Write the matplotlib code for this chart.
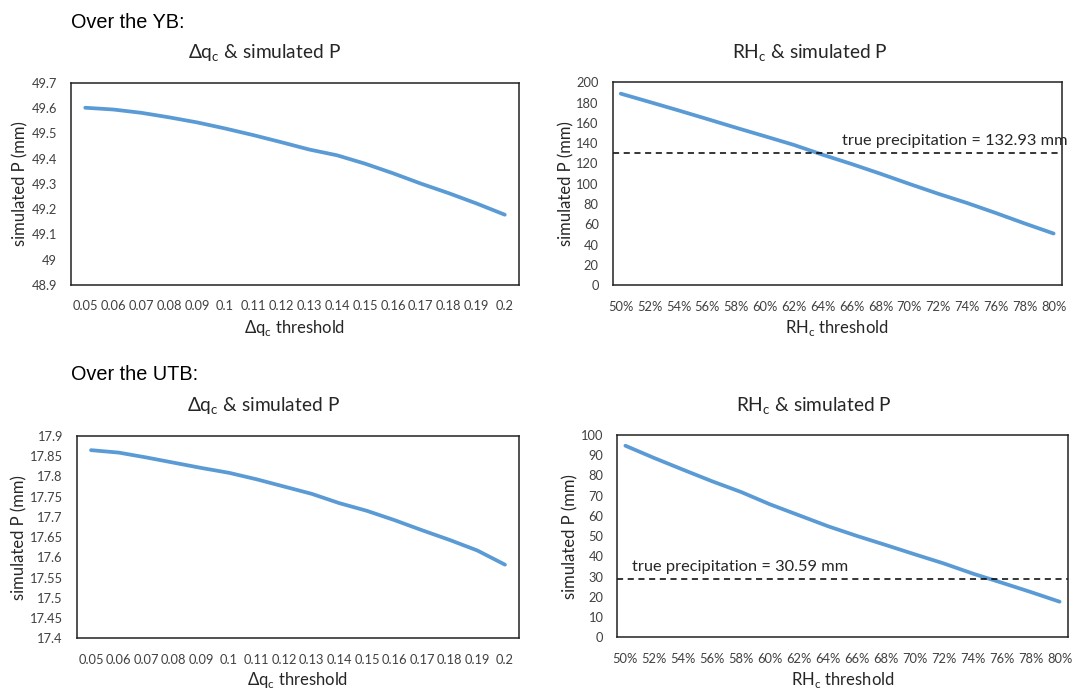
import matplotlib
matplotlib.use("Agg")
import matplotlib.pyplot as plt
import numpy as np

plt.rcParams['font.family'] = ['Lato', 'DejaVu Sans']

# categories
dq_labels = ['0.05', '0.06', '0.07', '0.08', '0.09', '0.1', '0.11', '0.12',
             '0.13', '0.14', '0.15', '0.16', '0.17', '0.18', '0.19', '0.2']
rh_labels = ['50%', '52%', '54%', '56%', '58%', '60%', '62%', '64%',
             '66%', '68%', '70%', '72%', '74%', '76%', '78%', '80%']

# simulated P (mm)
yb_dq = [49.601, 49.594, 49.581, 49.563, 49.543, 49.519, 49.493, 49.465,
         49.436, 49.413, 49.380, 49.342, 49.301, 49.263, 49.222, 49.178]
yb_rh = [188.8, 180.6, 172.3, 163.8, 155.2, 146.8, 138.3, 128.6,
         119.5, 109.9, 99.9, 90.2, 81.1, 71.2, 60.9, 51.0]
utb_dq = [17.865, 17.859, 17.847, 17.834, 17.821, 17.809, 17.793, 17.775,
          17.757, 17.734, 17.715, 17.692, 17.667, 17.643, 17.617, 17.582]
utb_rh = [94.7, 88.6, 82.8, 77.1, 71.8, 65.7, 60.3, 54.9,
          50.1, 45.6, 41.0, 36.5, 31.5, 27.0, 22.4, 17.6]

# true precipitation
yb_true = 132.93
utb_true = 30.59
yb_true_drawn = 130.0   # level of the dashed line as drawn
utb_true_drawn = 28.9

W, H = 1075, 689
BLUE = '#5B9BD5'
TXT = '#262626'


def box(l, t, r, b):
    return [l / W, 1 - b / H, (r - l) / W, (b - t) / H]


def panel(rect, labels, values, ylim, ystep, pad, xlabel, title, title_x, title_y,
          ylab_x, xlab_y):
    l, t, r, b = rect
    ax = fig.add_axes(box(*rect))
    x = np.arange(len(labels))
    ax.plot(x, values, color=BLUE, lw=2.7, solid_capstyle='round')
    ax.set_xlim(-pad, len(labels) - 1 + pad)
    ax.set_ylim(*ylim)
    yt = np.round(np.arange(ylim[0], ylim[1] + ystep / 2, ystep), 4)
    ax.set_yticks(yt)
    ax.set_yticklabels(['{:g}'.format(v) for v in yt])
    ax.set_xticks(x)
    ax.set_xticklabels(labels)
    ax.tick_params(length=0, labelsize=9.3, colors='#404040')
    ax.tick_params(axis='x', pad=11)
    ax.tick_params(axis='y', pad=10)
    for s in ax.spines.values():
        s.set_linewidth(1.1)
        s.set_color('#222222')
    ax.set_xlabel(xlabel, fontsize=12, color=TXT, va='center')
    ax.xaxis.set_label_coords(0.5, -(xlab_y - b) / (b - t))
    ax.set_ylabel('simulated P (mm)', fontsize=12, color=TXT, va='center')
    ax.yaxis.set_label_coords(-(l - ylab_x) / (r - l), 0.5)
    fig.text(title_x / W, 1 - title_y / H, title, fontsize=13.8, color=TXT,
             ha='center', va='center')
    return ax


fig = plt.figure(figsize=(W / 100, H / 100), dpi=100)

dq_title = 'Δq$_\\mathregular{c}$ & simulated P'
rh_title = 'RH$_\\mathregular{c}$ & simulated P'
dq_x = 'Δq$_\\mathregular{c}$ threshold'
rh_x = 'RH$_\\mathregular{c}$ threshold'

fig.text(71 / W, 1 - 22 / H, 'Over the YB:', fontsize=14.3,
         family=['Liberation Sans', 'DejaVu Sans'], va='center')
fig.text(71 / W, 1 - 374 / H, 'Over the UTB:', fontsize=14.3,
         family=['Liberation Sans', 'DejaVu Sans'], va='center')

panel((70.7, 82.7, 519.3, 285), dq_labels, yb_dq, (48.9, 49.7), 0.1, 0.52,
      dq_x, dq_title, 264, 53, 20, 328)
ax2 = panel((612.7, 82.3, 1061.7, 285.3), rh_labels, yb_rh, (0, 200), 20, 0.28,
            rh_x, rh_title, 810, 53, 566, 328)
ax2.axhline(yb_true_drawn, color='black', lw=1.1, ls=(0, (4, 3)))
ax2.text(7.65, 142, 'true precipitation = {:.2f} mm'.format(yb_true),
         fontsize=11.8, color=TXT, va='center', clip_on=False)

panel((76.7, 436, 519.3, 638.3), dq_labels, utb_dq, (17.4, 17.9), 0.05, 0.52,
      dq_x, dq_title, 263, 406, 19, 680)
ax4 = panel((617.3, 435, 1067.7, 637.3), rh_labels, utb_rh, (0, 100), 10, 0.28,
            rh_x, rh_title, 814, 406, 570, 680)
ax4.axhline(utb_true_drawn, color='black', lw=1.1, ls=(0, (4, 3)))
ax4.text(0.22, 34.8, 'true precipitation = {:.2f} mm'.format(utb_true),
         fontsize=11.8, color=TXT, va='center')

fig.savefig('out.png', dpi=100)
